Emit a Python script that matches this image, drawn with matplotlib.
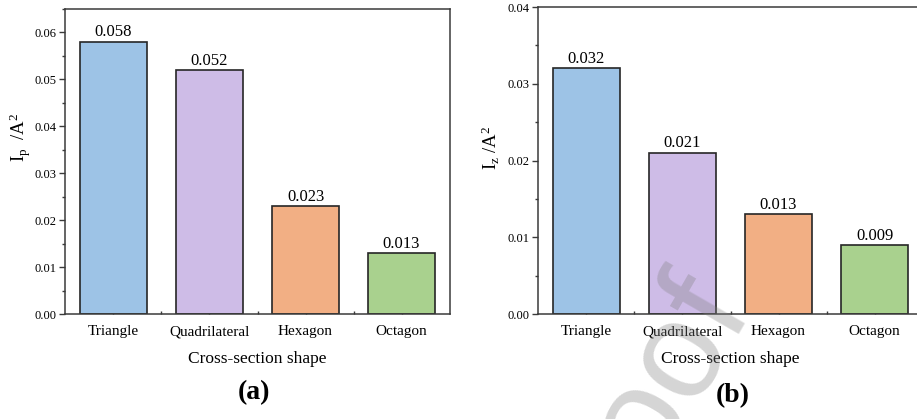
import matplotlib
matplotlib.use("Agg")
import matplotlib.pyplot as plt
from matplotlib.ticker import MultipleLocator, FormatStrFormatter

plt.rcParams["font.family"] = ["Liberation Serif", "DejaVu Serif"]
plt.rcParams["mathtext.fontset"] = "custom"
plt.rcParams["mathtext.rm"] = "Liberation Serif"
plt.rcParams["mathtext.it"] = "Liberation Serif:italic"

# Data
shapes = ["Triangle", "Quadrilateral", "Hexagon", "Octagon"]
ip_values = [0.058, 0.052, 0.023, 0.013]
iz_values = [0.032, 0.021, 0.013, 0.009]
bar_colors = ["#9DC3E6", "#CEBCE7", "#F2AF84", "#A9D18E"]

W, H = 917, 419
fig = plt.figure(figsize=(W / 100, H / 100), dpi=100)

spine_color = "#3a3a3a"
edge_color = "#262626"


def draw_panel(ax, values, ymax, ylabel):
    x = list(range(len(shapes)))
    ax.bar(x, values, width=0.7, color=bar_colors, edgecolor=edge_color,
           linewidth=1.2, zorder=2)
    for xi, v in zip(x, values):
        ax.annotate(f"{v:.3f}", (xi, v), xytext=(0, 1), textcoords="offset points",
                    ha="center", va="bottom", fontsize=12, zorder=3)
    ax.set_xlim(-0.505, 3.505)
    ax.set_ylim(0, ymax)
    ax.set_xticks(x)
    ax.set_xticklabels(shapes, fontsize=11)
    ax.set_xticks([0.5, 1.5, 2.5], minor=True)
    ax.yaxis.set_major_locator(MultipleLocator(0.01))
    ax.yaxis.set_minor_locator(MultipleLocator(0.005))
    ax.yaxis.set_major_formatter(FormatStrFormatter("%.2f"))
    ax.tick_params(axis="y", which="major", direction="out", length=4.5,
                   width=1.0, color=spine_color, labelsize=9, pad=1.5)
    ax.tick_params(axis="y", which="minor", direction="out", length=2.5,
                   width=1.0, color=spine_color)
    ax.tick_params(axis="x", which="major", direction="in", length=4,
                   width=1.0, color=spine_color, pad=8)
    ax.tick_params(axis="x", which="minor", direction="in", length=2.5,
                   width=1.0, color=spine_color)
    for s in ax.spines.values():
        s.set_color(spine_color)
        s.set_linewidth(1.1)
    ax.set_xlabel("Cross-section shape", fontsize=12.5, labelpad=9)
    ax.set_ylabel(ylabel, fontsize=13.5)
    return ax


ax1 = fig.add_axes([65 / W, 1 - 314 / H, 385 / W, 305 / H])
draw_panel(ax1, ip_values, 0.065, r"I$_\mathrm{p}$  /A$^2$")
ax1.yaxis.set_label_coords(-0.083, 0.58)

ax2 = fig.add_axes([538 / W, 1 - 314 / H, 385 / W, 307 / H])
draw_panel(ax2, iz_values, 0.04, r"I$_\mathrm{z}$ /A$^2$")
ax2.yaxis.set_label_coords(-0.094, 0.54)

fig.text(254 / W, 1 - 393 / H, "(a)", fontsize=20, fontweight="bold",
         ha="center", va="center")
fig.text(733 / W, 1 - 396 / H, "(b)", fontsize=20, fontweight="bold",
         ha="center", va="center")

# Proof watermark
fig.text(748 / W, 1 - 300 / H, "Pre-proof", fontsize=100, family="Liberation Sans",
         color="gray", alpha=0.33, rotation=60, rotation_mode="anchor",
         ha="right", va="baseline", zorder=10)

fig.savefig("out.png", dpi=100)
